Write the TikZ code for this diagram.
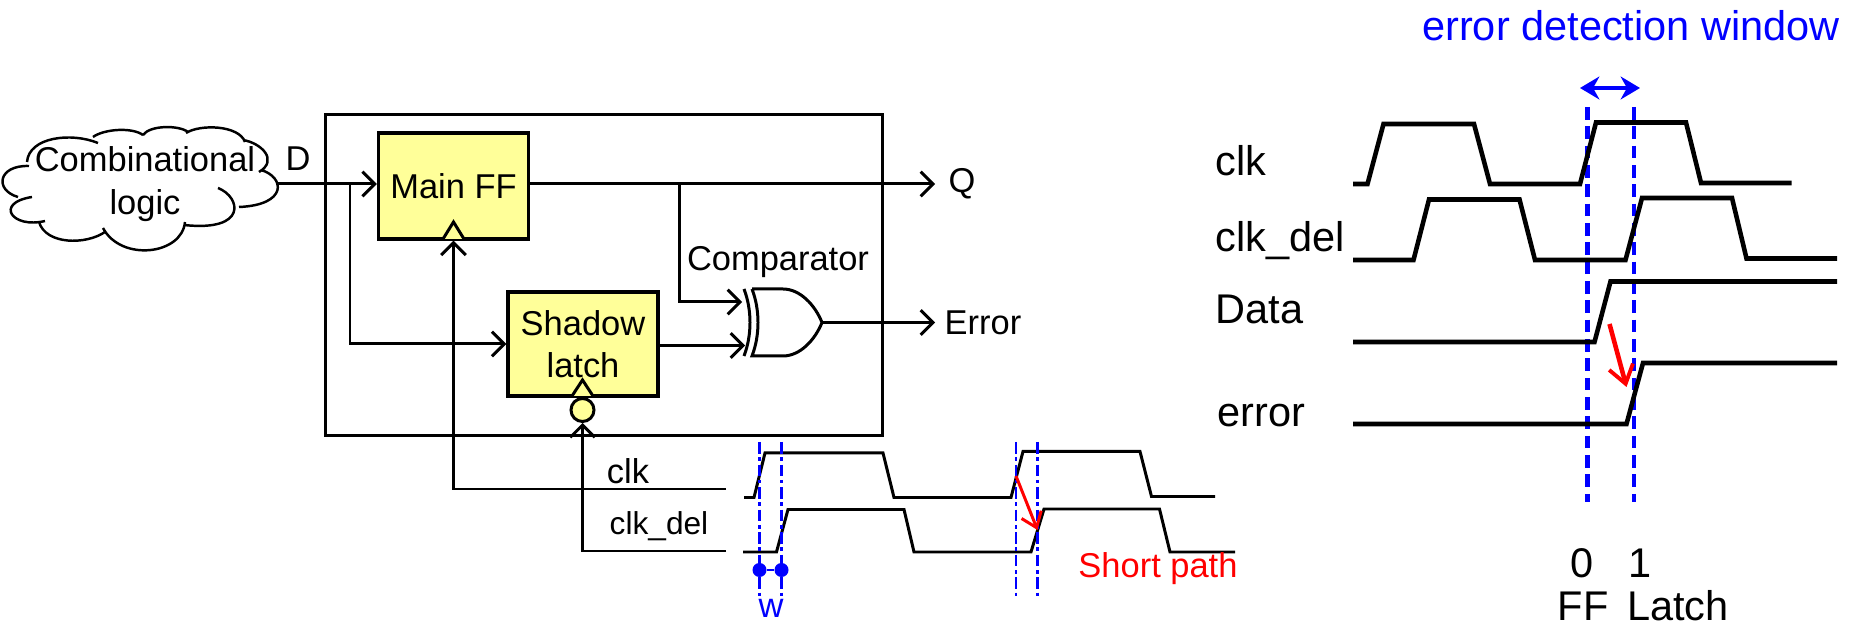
\documentclass[tikz,border=0pt]{standalone}
\usepackage{fontspec}
\setmainfont{Liberation Sans}
\usetikzlibrary{positioning,arrows.meta}
\definecolor{ffyellow}{HTML}{FFFF99}
\tikzset{
  wire/.style={line width=0.85pt, -{Straight Barb[length=3.5pt,width=7pt,line width=0.85pt]}},
  plainwire/.style={line width=0.85pt},
  ffbox/.style={draw, line width=0.95pt, fill=ffyellow, align=center, font=\fontsize{9.8}{12}\selectfont, inner sep=0pt},
  lbl/.style={font=\fontsize{9.8}{12}\selectfont, align=center, inner sep=0pt},
  biglbl/.style={font=\fontsize{11.8}{14}\selectfont, inner sep=0pt},
  wave/.style={line width=0.85pt},
  bigwave/.style={line width=1.3pt},
  winline/.style={blue, line width=0.8pt, dash pattern=on 3.4pt off 1pt on 1pt off 1pt},
  bigwinline/.style={blue, line width=1.3pt, dash pattern=on 3.6pt off 1.9pt},
}
\begin{document}
\begin{tikzpicture}[x=0.01cm,y=-0.01cm]
\useasboundingbox (0,0) rectangle (1857,625);
% cloud
\draw[line width=0.7pt]
  (27,162) .. controls (29,137) and (71,132) .. (98,143)
  (93,137) .. controls (104,129) and (132,127) .. (143,135)
  (143,135) .. controls (150,125) and (179,125) .. (188,132)
  (186,133) .. controls (200,124) and (239,125) .. (245,142)
  (243,140) .. controls (261,143) and (279,160) .. (259,172)
  (261,170) .. controls (285,177) and (288,205) .. (239,207)
  (218,188) .. controls (241,197) and (248,232) .. (184,225)
  (185,222) .. controls (182,255) and (121,262) .. (103,228)
  (105,232) .. controls (86,245) and (46,245) .. (39,222)
  (45,221) .. controls (12,229) and (-6,203) .. (32,197)
  (18,197) .. controls (-6,190) and (-2,165) .. (29,166);
\node[lbl] (logic) at (145,184) {Combinational\\logic};
\coordinate (cloudout) at (276,184);
\node[lbl] (dlabel) at (298,159) {D};
% big box
\node[draw, line width=0.85pt, minimum width=5.56cm, minimum height=3.2cm, inner sep=0pt] (outer) at (604,275) {};
\node[ffbox, minimum width=1.5cm, minimum height=1.06cm] (main) at (453.5,186) {Main FF};
\node[ffbox, minimum width=1.5cm, minimum height=1.04cm] (latch) at (583,344) {Shadow\\latch};
\draw[plainwire, fill=ffyellow] (443,239) -- (453.5,222) -- (464,239);
\draw[plainwire, fill=ffyellow] (572,396) -- (582.5,380) -- (593,396);
\node[draw, circle, line width=0.85pt, fill=ffyellow, minimum size=0.23cm, inner sep=0pt] (bubble) at (582.5,410) {};
% wires
\coordinate (dsplit) at (350,184);
\coordinate (qsplit) at (679,184);
\coordinate (qout) at (935,184);
\coordinate (xorA) at (742,302);
\coordinate (xorB) at (745,345.5);
\coordinate (xorOut) at (822,322.5);
\coordinate (errout) at (935,322.5);
\coordinate (clkend) at (726,489);
\coordinate (delend) at (726,551);
\draw[wire] (cloudout) -- (main.west |- cloudout);
\draw[wire] (dsplit) |- (latch.west);
\draw[wire] (main.east |- qout) -- (qout);
\draw[wire] (qsplit) |- (xorA);
\draw[wire] (latch.east |- xorB) -- (xorB);
\draw[wire] (xorOut) -- (errout);
\draw[wire] (clkend) -| (main.south);
\draw[wire] (delend) -| (bubble.south);
% xor gate
\draw[line width=0.85pt] (744,289) .. controls (752,310) and (752,335) .. (744,356);
\draw[line width=0.85pt] (752,289) -- (783,289) .. controls (800,289) and (815,305) .. (822,322.5)
  .. controls (815,340) and (800,356) .. (783,356) -- (752,356)
  .. controls (760,335) and (760,310) .. (752,289);
\node[lbl] (complabel) at (778,262) {Comparator};
\node[lbl] (qlabel) at (962,184) {Q};
\node[lbl, anchor=west] (errlabel) at (944,323) {Error};
% left timing
\node[lbl] (clklabel) at (628,471) {clk};
\node[lbl, font=\fontsize{9}{12}\selectfont] (dellabel) at (659,526) {clk\_del};
\draw[wave] (744,497.5) -- (754,497.5) -- (765,453) -- (883,453) -- (894,497.5) -- (1011,497.5)
  -- (1023,451.5) -- (1140,451.5) -- (1151.5,496.5) -- (1215,496.5);
\draw[wave] (743,552) -- (776.5,552) -- (788,509.5) -- (904,509.5) -- (914,552) -- (1031,552)
  -- (1044,509) -- (1159.5,509) -- (1170,552) -- (1235,552);
\foreach \x in {759.5,781.5,1016,1037.5}
  \draw[winline] (\x,442) -- (\x,596);
\node[circle, fill=blue, minimum size=0.14cm, inner sep=0pt] (wa) at (759.5,570) {};
\node[circle, fill=blue, minimum size=0.14cm, inner sep=0pt] (wb) at (781.5,570) {};
\draw[blue, line width=0.85pt] (wa) -- (wb);
\node[lbl, blue] (wlabel) at (771,608) {w};
\coordinate (redA) at (1016,476);
\coordinate (redB) at (1037.5,530);
\draw[red, line width=0.85pt, -{Straight Barb[length=4pt,width=6pt,line width=0.85pt]}] (redA) -- (redB);
\node[lbl, red] (shortlabel) at (1158,569) {Short path};
% right timing
\node[biglbl, blue] (winlabel) at (1631,26) {error detection window};
\coordinate (winA) at (1580,88);
\coordinate (winB) at (1640,88);
\draw[blue, line width=1.4pt, {Stealth[length=5.5pt,width=6.5pt]}-{Stealth[length=5.5pt,width=6.5pt]}] (winA) -- (winB);
\foreach \x in {1587.5,1634}
  \draw[bigwinline] (\x,107) -- (\x,502);
\draw[bigwave] (1353,184) -- (1367.5,184) -- (1383.5,124) -- (1474,124) -- (1490,184) -- (1580,184)
  -- (1596,122.5) -- (1686,122.5) -- (1701,183) -- (1791.5,183);
\draw[bigwave] (1353,260) -- (1413.5,260) -- (1429,199.5) -- (1519.5,199.5) -- (1535,260) -- (1625.5,260)
  -- (1642,198) -- (1732,198) -- (1746.5,258.5) -- (1837,258.5);
\draw[bigwave] (1353,342) -- (1594.5,342) -- (1610.5,281.5) -- (1837,281.5);
\draw[bigwave] (1353,424) -- (1626.5,424) -- (1643,363) -- (1837,363);
\coordinate (bigredA) at (1609.5,324);
\coordinate (bigredB) at (1626.5,387);
\draw[red, line width=1.3pt, -{Straight Barb[length=5pt,width=7pt,line width=1.1pt]}] (bigredA) -- (bigredB);
\node[biglbl, anchor=base west] (bigclk) at (1215,176) {clk};
\node[biglbl, anchor=base west] (bigdel) at (1215,252) {clk\_del};
\node[biglbl, anchor=base west] (bigdata) at (1215,324) {Data};
\node[biglbl, anchor=base west] (bigerror) at (1217,427) {error};
\node[biglbl, anchor=base] (zero) at (1582,578) {0};
\node[biglbl, anchor=base] (one) at (1640,578) {1};
\node[biglbl, anchor=base] (fflabel) at (1583,621) {FF};
\node[biglbl, anchor=base] (latchlabel) at (1678,621) {Latch};
\end{tikzpicture}
\end{document}
